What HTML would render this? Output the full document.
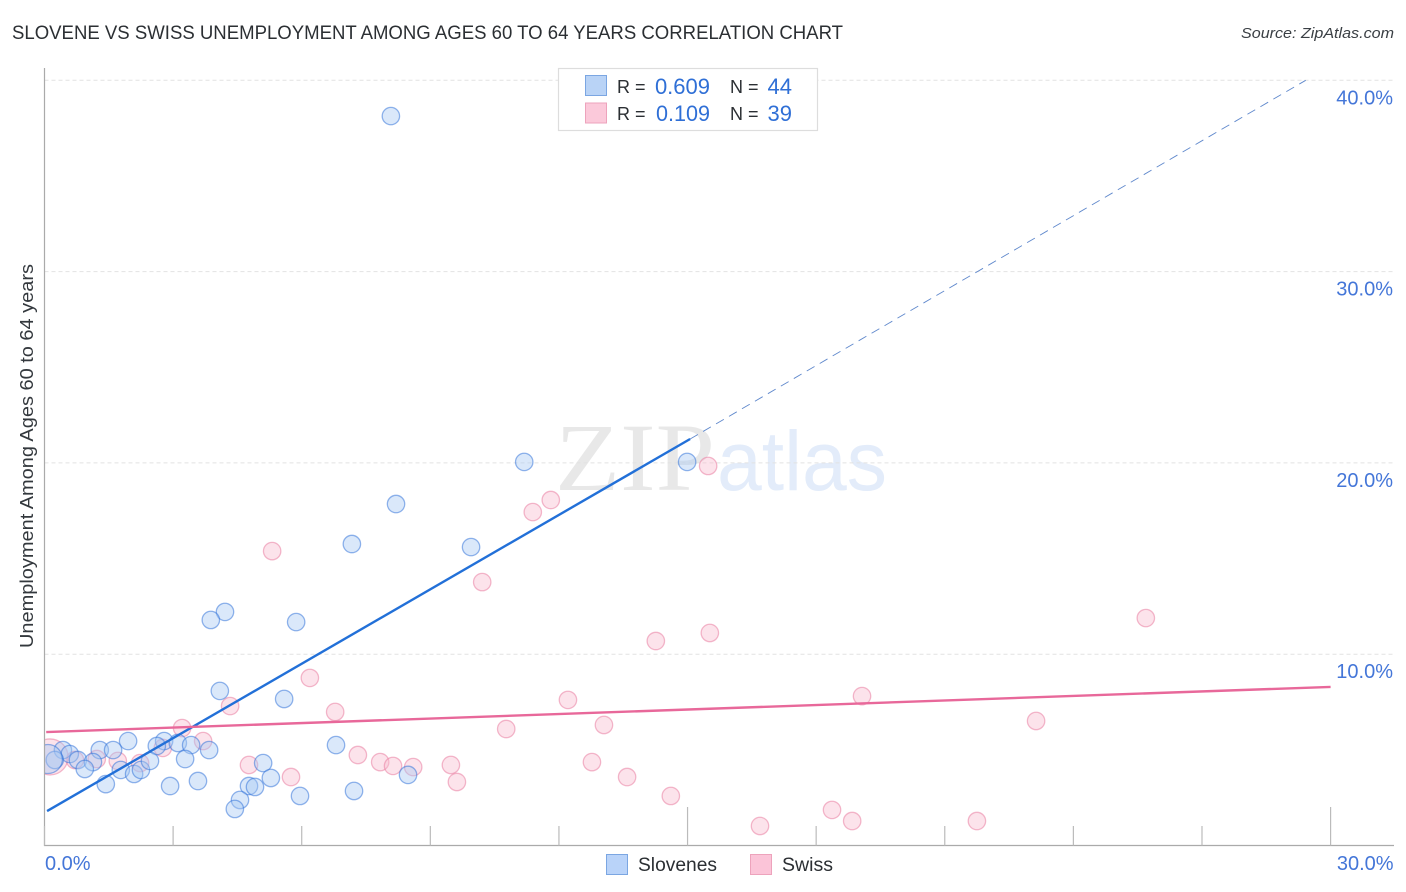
<!DOCTYPE html>
<html lang="en">
<head>
<meta charset="utf-8">
<title>Slovene vs Swiss Unemployment Correlation Chart</title>
<style>
html,body{margin:0;padding:0;background:#fff;width:1406px;height:892px;overflow:hidden}
svg{display:block;font-family:"Liberation Sans",sans-serif}
</style>
</head>
<body>
<svg id="chart" xmlns="http://www.w3.org/2000/svg" width="1406" height="892" viewBox="0 0 1406 892">
  <defs>
    <clipPath id="plot-clip"><rect x="45" y="60" width="1349" height="785"/></clipPath>
  </defs>
  <rect x="0" y="0" width="1406" height="892" fill="#ffffff"/>
  <text x="12" y="39" font-size="19" fill="#2b2f33" textLength="831" lengthAdjust="spacingAndGlyphs">SLOVENE VS SWISS UNEMPLOYMENT AMONG AGES 60 TO 64 YEARS CORRELATION CHART</text>
  <text x="1241" y="38" font-size="15" font-style="italic" fill="#3a3f44" textLength="153" lengthAdjust="spacingAndGlyphs">Source: ZipAtlas.com</text>
  <g>
    <text x="555" y="490" font-family="'Liberation Serif',serif" font-size="96" fill="#e8e8e8" textLength="160" lengthAdjust="spacingAndGlyphs">ZIP</text>
    <text x="717" y="490" font-size="84" fill="#e3ecfa" textLength="170" lengthAdjust="spacingAndGlyphs">atlas</text>
  </g>
  <g id="grid"></g>
  <g id="points" clip-path="url(#plot-clip)"></g>
  <g id="trends"></g>
  <g id="axes">
    <line x1="44.5" y1="68" x2="44.5" y2="846" stroke="#aaaaaa" stroke-width="1.2"/>
    <line x1="44" y1="845.5" x2="1394" y2="845.5" stroke="#aaaaaa" stroke-width="1.2"/>
  </g>
  <g id="tick-labels"></g>
  <text transform="translate(33,648) rotate(-90)" x="0" y="0" font-size="18" fill="#33383d" textLength="384" lengthAdjust="spacingAndGlyphs">Unemployment Among Ages 60 to 64 years</text>

  <g>
    <rect x="558.5" y="68.5" width="259" height="62" fill="#ffffff" stroke="#dddddd" stroke-width="1.2"/>
    <rect x="585.5" y="75.5" width="21" height="20" fill="#b9d3f6" stroke="#7ba6e2"/>
    <rect x="585.5" y="103" width="21" height="20" fill="#fbc9da" stroke="#eda3bc"/>
    <text x="617" y="93" font-size="18" fill="#2b2f33">R =</text>
    <text x="710" y="94" font-size="22" fill="#2f6fd6" text-anchor="end">0.609</text>
    <text x="730" y="93" font-size="18" fill="#2b2f33">N =</text>
    <text x="792" y="94" font-size="22" fill="#2f6fd6" text-anchor="end">44</text>
    <text x="617" y="120" font-size="18" fill="#2b2f33">R =</text>
    <text x="710" y="121" font-size="22" fill="#2f6fd6" text-anchor="end" textLength="54" lengthAdjust="spacingAndGlyphs">0.109</text>
    <text x="730" y="120" font-size="18" fill="#2b2f33">N =</text>
    <text x="792" y="121" font-size="22" fill="#2f6fd6" text-anchor="end">39</text>
  </g>

  <g>
    <rect x="606.5" y="854.5" width="21" height="20" fill="#b9d3f9" stroke="#7ba6e2"/>
    <text x="638" y="871" font-size="19" fill="#2b2f33" textLength="79" lengthAdjust="spacingAndGlyphs">Slovenes</text>
    <rect x="750.5" y="854.5" width="21" height="20" fill="#fbc4d8" stroke="#eda3bc"/>
    <text x="782" y="871" font-size="19" fill="#2b2f33" textLength="51" lengthAdjust="spacingAndGlyphs">Swiss</text>
  </g>
</svg>
<script>
var sloveneX = [8.08,11.19,14.99,8.20,7.17,9.95,4.21,3.88,5.87,4.09,5.59,6.80,1.95,2.79,2.62,3.11,3.42,3.84,1.29,1.60,0.43,0.59,0.24,0.78,1.13,0.94,1.78,2.09,2.25,2.46,3.28,5.10,1.43,2.93,3.58,5.28,8.48,4.77,4.91,4.56,4.44,5.96,7.22,0.08];
var sloveneY = [38.13,20.05,20.05,17.85,15.76,15.60,12.21,11.79,11.68,8.08,7.66,5.25,5.46,5.46,5.20,5.36,5.25,4.99,4.99,4.99,4.99,4.78,4.47,4.47,4.36,4.00,3.95,3.74,3.95,4.42,4.52,4.31,3.21,3.11,3.37,3.53,3.69,3.11,3.06,2.38,1.91,2.59,2.85,4.52];
var sloveneSize = [8.7,8.7,8.7,8.7,8.7,8.7,8.7,8.7,8.7,8.7,8.7,8.7,8.7,8.7,8.7,8.7,8.7,8.7,8.7,8.7,8.7,8.7,8.7,8.7,8.7,8.7,8.7,8.7,8.7,8.7,8.7,8.7,8.7,8.7,8.7,8.7,8.7,8.7,8.7,8.7,8.7,8.7,8.7,14.5];
var swissX = [15.48,11.81,11.39,5.31,10.21,25.69,15.52,14.26,6.19,12.21,19.07,4.33,6.78,23.13,13.05,10.77,3.21,3.70,2.76,7.31,7.83,8.13,8.60,9.48,4.77,5.75,9.62,12.77,13.59,14.61,18.37,18.84,16.69,21.75,1.71,1.22,2.23,0.71,0.13];
var swissY = [19.84,18.06,17.43,15.39,13.77,11.89,11.11,10.69,8.76,7.61,7.81,7.29,6.98,6.51,6.30,6.09,6.14,5.46,5.10,4.73,4.36,4.16,4.10,4.21,4.21,3.58,3.32,4.36,3.58,2.59,1.86,1.28,1.02,1.28,4.42,4.52,4.31,4.47,4.63];
var swissSize = [8.7,8.7,8.7,8.7,8.7,8.7,8.7,8.7,8.7,8.7,8.7,8.7,8.7,8.7,8.7,8.7,8.7,8.7,8.7,8.7,8.7,8.7,8.7,8.7,8.7,8.7,8.7,8.7,8.7,8.7,8.7,8.7,8.7,8.7,8.7,8.7,8.7,8.7,18];
var sloveneTrendX = [0.06,15.06,29.42];
var sloveneTrendY = [1.80,21.25,40.00];
var swissTrendX = [0.04,30.0];
var swissTrendY = [5.93,8.29];
var yGridValues = [10,20,30,40];
var yTickLabels = ["10.0%","20.0%","30.0%","40.0%"];
var xTickValues = [0,3,6,9,12,15,18,21,24,27,30];
var xTallTicks = [15,30];
var xEndValues = [0,30];
var xEndLabels = ["0.0%","30.0%"];

var NS = 'http://www.w3.org/2000/svg';
function xScale(v){ return 44.5 + v * 42.87; }
function yScale(v){ return 845.5 - v * 19.13; }
function make(tag, parent, attrs){
  var el = document.createElementNS(NS, tag);
  for (var k in attrs) el.setAttribute(k, attrs[k]);
  parent.appendChild(el);
  return el;
}
var grid = document.getElementById('grid');
var axes = document.getElementById('axes');
var points = document.getElementById('points');
var trends = document.getElementById('trends');
var labels = document.getElementById('tick-labels');

yGridValues.forEach(function(v, i){
  var line = make('line', grid, {x1:44.5, y1:yScale(v), x2:1394, y2:yScale(v), stroke:'#e2e2e2', 'stroke-width':1, 'stroke-dasharray':'4 3'});
  
  
  var t = make('text', labels, {x:1393, y:yScale(v)+24, 'font-size':20, fill:'#4476d8', 'text-anchor':'end'});
  t.textContent = yTickLabels[i];
  
  
});

xTickValues.forEach(function(v){
  var tall = xTallTicks.indexOf(v) >= 0;
  var tick = make('line', axes, {x1:xScale(v), y1:tall ? 807 : 826, x2:xScale(v), y2:845.5, stroke:'#bbbbbb', 'stroke-width':1.2});
  
  
});

xEndValues.forEach(function(v, i){
  var t = make('text', labels, {x:i === 0 ? xScale(v)+0.5 : xScale(v)+63, y:870, 'font-size':20, fill:'#4476d8', 'text-anchor':i === 0 ? 'start' : 'end'});
  t.textContent = xEndLabels[i];
  
  
});

swissX.forEach(function(v, i){
  var c = make('circle', points, {cx:xScale(v), cy:yScale(swissY[i]), r:swissSize[i], fill:'#f8bcd0', 'fill-opacity':0.42, stroke:'#e97fa3', 'stroke-opacity':0.55, 'stroke-width':1.3});
  
  
});
sloveneX.forEach(function(v, i){
  var c = make('circle', points, {cx:xScale(v), cy:yScale(sloveneY[i]), r:sloveneSize[i], fill:'#a6c8f2', 'fill-opacity':0.42, stroke:'#2f72d8', 'stroke-opacity':0.52, 'stroke-width':1.3});
  
  
});

var solidBlue = make('line', trends, {x1:xScale(sloveneTrendX[0]), y1:yScale(sloveneTrendY[0]), x2:xScale(sloveneTrendX[1]), y2:yScale(sloveneTrendY[1]), stroke:'#2270d8', 'stroke-width':2.4});


var dashBlue = make('line', trends, {x1:xScale(sloveneTrendX[1]), y1:yScale(sloveneTrendY[1]), x2:xScale(sloveneTrendX[2]), y2:yScale(sloveneTrendY[2]), stroke:'#5f88cc', 'stroke-width':0.9, 'stroke-dasharray':'9 6'});


var pinkLine = make('line', trends, {x1:xScale(swissTrendX[0]), y1:yScale(swissTrendY[0]), x2:xScale(swissTrendX[1]), y2:yScale(swissTrendY[1]), stroke:'#e8689a', 'stroke-width':2.4});


</script>
</body>
</html>
